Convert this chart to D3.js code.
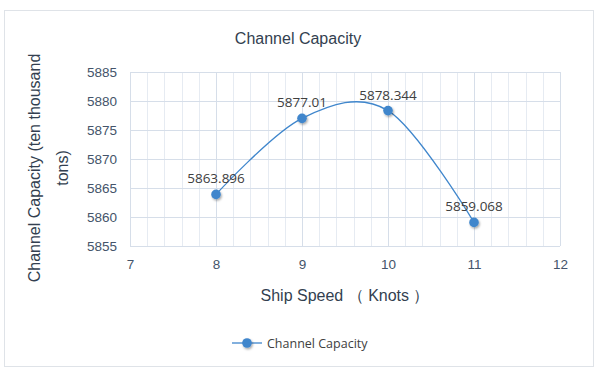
<!DOCTYPE html>
<html lang="en">
<head>
<meta charset="UTF-8">
<title>Channel Capacity</title>
<script src="https://cdn.jsdelivr.net/npm/d3@7"></script>
<style>
    body { margin: 0; background: #fff; }
    svg { display: block; font-family: "Liberation Sans", Arial, sans-serif; }
</style>
</head>
<body>
<script>
    // data
    var speeds = [8, 9, 10, 11];
    var capacity = [5863.896, 5877.01, 5878.344, 5859.068];
    var xTicks = [7, 8, 9, 10, 11, 12];
    var yTicks = [5855, 5860, 5865, 5870, 5875, 5880, 5885];

    var W = 600, H = 376;
    var plot = { left: 130, right: 560, top: 72, bottom: 246 };
    var blue = '#3f86cc';
    var textCol = '#44546a';

    var svg = d3.select('body').append('svg')
        .attr('width', W)
        .attr('height', H);

    var defs = svg.append('defs');
    var f = defs.append('filter').attr('id', 'shadow')
        .attr('x', '-50%').attr('y', '-50%').attr('width', '200%').attr('height', '200%');
    f.append('feDropShadow').attr('dx', 1).attr('dy', 1.5).attr('stdDeviation', 1.2)
        .attr('flood-color', '#000').attr('flood-opacity', 0.35);

    // outer frame
    svg.append('rect')
        .attr('x', 4.5).attr('y', 10.5)
        .attr('width', 589).attr('height', 356)
        .attr('fill', '#fff')
        .attr('stroke', '#dfe3e8');

    var x = d3.scaleLinear().domain([7, 12]).range([plot.left, plot.right]);
    var y = d3.scaleLinear().domain([5855, 5885]).range([plot.bottom, plot.top]);

    // minor vertical grid every 0.2
    var grid = svg.append('g');
    grid.selectAll('line.vminor')
        .data(d3.range(7, 12.001, 0.2))
        .enter().append('line')
        .attr('x1', d => Math.round(x(d)) + 0.5)
        .attr('x2', d => Math.round(x(d)) + 0.5)
        .attr('y1', plot.top).attr('y2', plot.bottom)
        .attr('stroke', '#e6ebf2');
    grid.selectAll('line.vmajor')
        .data(xTicks)
        .enter().append('line')
        .attr('x1', d => Math.round(x(d)) + 0.5)
        .attr('x2', d => Math.round(x(d)) + 0.5)
        .attr('y1', plot.top).attr('y2', plot.bottom)
        .attr('stroke', '#d6dee9');
    grid.selectAll('line.h')
        .data(yTicks)
        .enter().append('line')
        .attr('x1', plot.left).attr('x2', plot.right)
        .attr('y1', d => Math.round(y(d)) + 0.5)
        .attr('y2', d => Math.round(y(d)) + 0.5)
        .attr('stroke', '#d6dee9');

    // axes
    var xAxis = svg.append('g')
        .attr('transform', 'translate(0,' + plot.bottom + ')')
        .call(d3.axisBottom(x).tickValues(xTicks).tickFormat(d3.format('d')).tickSize(0).tickPadding(13));
    var yAxis = svg.append('g')
        .attr('transform', 'translate(' + plot.left + ',0)')
        .call(d3.axisLeft(y).tickValues(yTicks).tickFormat(d3.format('d')).tickSize(0).tickPadding(13));
    [xAxis, yAxis].forEach(function (a) {
        a.select('.domain').remove();
        a.selectAll('text')
            .attr('fill', textCol)
            .style('font-size', '13.5px')
            .style('font-family', '"Liberation Sans", Arial, sans-serif');
    });

    // smooth line
    var pts = speeds.map((s, i) => [s, capacity[i]]);
    var line = d3.line()
        .x(d => x(d[0]))
        .y(d => y(d[1]))
        .curve(d3.curveCardinal.tension(0));
    svg.append('path')
        .datum(pts)
        .attr('d', line)
        .attr('fill', 'none')
        .attr('stroke', blue)
        .attr('stroke-width', 1.3);

    svg.selectAll('circle.pt')
        .data(pts)
        .enter().append('circle')
        .attr('cx', d => x(d[0]))
        .attr('cy', d => y(d[1]))
        .attr('r', 4.8)
        .attr('fill', blue)
        .attr('filter', 'url(#shadow)');

    // data labels
    svg.selectAll('text.lbl')
        .data(pts)
        .enter().append('text')
        .attr('x', d => x(d[0]))
        .attr('y', d => y(d[1]) - 11)
        .attr('text-anchor', 'middle')
        .attr('fill', '#404040')
        .style('font-size', '13.5px')
        .style('font-family', '"Open Sans", sans-serif')
        .text(d => d[1]);

    // titles
    svg.append('text')
        .attr('x', 298).attr('y', 44)
        .attr('text-anchor', 'middle')
        .attr('fill', '#333f50')
        .style('font-size', '16px')
        .text('Channel Capacity');

    svg.append('text')
        .attr('x', (plot.left + plot.right) / 2).attr('y', 301)
        .attr('text-anchor', 'middle')
        .attr('fill', '#333f50')
        .style('font-size', '16px')
        .text('Ship Speed （ Knots ）');

    var yt = svg.append('text')
        .attr('transform', 'translate(40,168) rotate(-90)')
        .attr('text-anchor', 'middle')
        .attr('fill', '#333f50')
        .style('font-size', '16px');
    yt.append('tspan').attr('x', 0).attr('dy', 0).text('Channel Capacity (ten thousand');
    yt.append('tspan').attr('x', 0).attr('dy', 28).text('tons)');

    // legend
    var lg = svg.append('g').attr('transform', 'translate(232,343)');
    lg.append('line').attr('x1', 0).attr('x2', 30).attr('y1', 0).attr('y2', 0)
        .attr('stroke', blue).attr('stroke-width', 1.3);
    lg.append('circle').attr('cx', 15).attr('cy', 0).attr('r', 4.8)
        .attr('fill', blue).attr('filter', 'url(#shadow)');
    lg.append('text').attr('x', 35).attr('y', 4.5)
        .attr('fill', '#404040')
        .style('font-size', '12.5px')
        .style('font-family', '"Open Sans", sans-serif')
        .text('Channel Capacity');
</script>
</body>
</html>
